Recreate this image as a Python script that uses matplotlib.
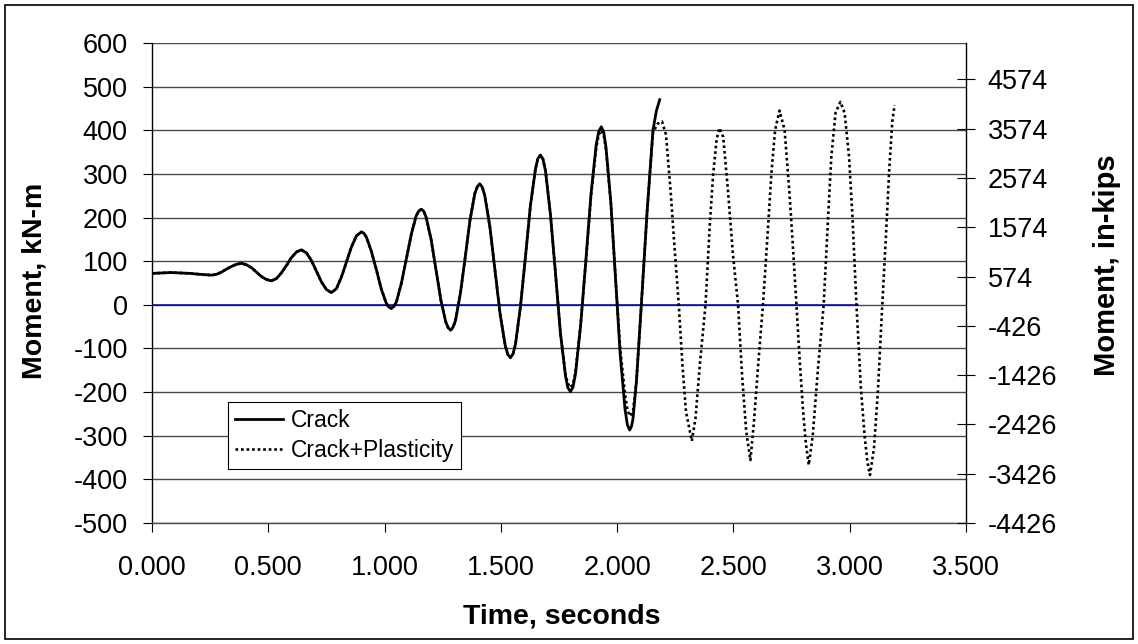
import matplotlib
matplotlib.use('Agg')
import matplotlib.pyplot as plt
from matplotlib.patches import Rectangle

# Crack (solid)
TimeCrack = [0.000, 0.041, 0.081, 0.122, 0.163, 0.203, 0.256,
             0.278, 0.299, 0.321, 0.342, 0.364, 0.385,
             0.406, 0.428, 0.449, 0.470, 0.492, 0.513,
             0.535, 0.556, 0.578, 0.599, 0.621, 0.642,
             0.664, 0.685, 0.707, 0.728, 0.750, 0.771,
             0.793, 0.814, 0.836, 0.857, 0.879, 0.900,
             0.911, 0.922, 0.943, 0.965, 0.986, 1.007, 1.018, 1.029,
             1.040, 1.051, 1.072, 1.094, 1.115, 1.136, 1.147, 1.158,
             1.169, 1.179, 1.200, 1.221, 1.242, 1.263, 1.274, 1.284,
             1.294, 1.305, 1.326, 1.347, 1.367, 1.388, 1.399, 1.409,
             1.420, 1.431, 1.453, 1.475, 1.497, 1.519, 1.530, 1.541,
             1.552, 1.563, 1.584, 1.606, 1.627, 1.649, 1.659, 1.670,
             1.681, 1.692, 1.713, 1.735, 1.756, 1.778, 1.788, 1.799,
             1.810, 1.821, 1.843, 1.866, 1.888, 1.910, 1.921, 1.932,
             1.942, 1.952, 1.973, 1.993, 2.013, 2.034, 2.044, 2.054,
             2.062, 2.068, 2.083, 2.104, 2.129, 2.154, 2.169, 2.183]
MomentCrack = [72, 73, 74, 73, 72, 70, 68,
               70, 75, 82, 88, 93, 95,
               92, 85, 75, 65, 58, 55,
               60, 73, 90, 108, 121, 126,
               119, 102, 77, 53, 35, 28,
               37, 63, 98, 132, 158, 167,
               164, 155, 123, 80, 36, 4, -5, -8,
               -4, 7, 49, 106, 162, 204, 215, 219,
               214, 200, 150, 81, 11, -39, -53, -58,
               -52, -36, 26, 110, 193, 255, 271, 277,
               270, 250, 178, 78, -22, -94, -114, -121,
               -113, -90, -5, 111, 227, 312, 335, 343,
               334, 307, 208, 72, -64, -163, -190, -199,
               -189, -158, -47, 105, 256, 367, 398, 408,
               396, 361, 234, 61, -113, -240, -275, -287,
               -278, -262, -175, 0, 215, 400, 445, 470]

# Crack+Plasticity (dotted)
TimePlast = [0.000, 0.041, 0.081, 0.122, 0.163, 0.203, 0.256,
             0.278, 0.299, 0.321, 0.342, 0.364, 0.385,
             0.406, 0.428, 0.449, 0.470, 0.492, 0.513,
             0.535, 0.556, 0.578, 0.599, 0.621, 0.642,
             0.664, 0.685, 0.707, 0.728, 0.750, 0.771,
             0.793, 0.814, 0.836, 0.857, 0.879, 0.900,
             0.911, 0.922, 0.943, 0.965, 0.986, 1.007, 1.018, 1.029,
             1.040, 1.051, 1.072, 1.094, 1.115, 1.136, 1.147, 1.158,
             1.169, 1.179, 1.200, 1.221, 1.242, 1.263, 1.274, 1.284,
             1.294, 1.305, 1.326, 1.347, 1.367, 1.388, 1.399, 1.409,
             1.420, 1.431, 1.453, 1.475, 1.497, 1.519, 1.530, 1.541,
             1.552, 1.563, 1.584, 1.606, 1.627, 1.649, 1.659, 1.670,
             1.681, 1.692, 1.713, 1.735, 1.756,
             1.778, 1.788, 1.799, 1.810, 1.821, 1.843, 1.866, 1.888, 1.910, 1.921, 1.932,
             1.942, 1.952, 1.973, 1.993, 2.013, 2.034, 2.044, 2.054,
             2.068, 2.083, 2.104, 2.129, 2.154, 2.174, 2.193,
             2.210, 2.230, 2.247, 2.265, 2.281, 2.296, 2.321,
             2.337, 2.355, 2.380, 2.398, 2.413, 2.428, 2.440,
             2.456, 2.476, 2.498, 2.520, 2.537, 2.555, 2.573,
             2.588, 2.606, 2.627, 2.649, 2.663, 2.679, 2.698,
             2.720, 2.741, 2.755, 2.771, 2.785, 2.799, 2.812, 2.824,
             2.841, 2.863, 2.888, 2.907, 2.921, 2.939, 2.960,
             2.978, 2.997, 3.012, 3.029, 3.048, 3.064, 3.076, 3.087,
             3.104, 3.121, 3.140, 3.155, 3.170, 3.183, 3.193]
MomentPlast = [72, 73, 74, 73, 72, 70, 68,
               70, 75, 82, 88, 93, 95,
               92, 85, 75, 65, 58, 55,
               60, 73, 90, 108, 121, 126,
               119, 102, 77, 53, 35, 28,
               37, 63, 98, 132, 158, 167,
               164, 155, 123, 80, 36, 4, -5, -8,
               -4, 7, 49, 106, 162, 204, 215, 219,
               214, 200, 150, 81, 11, -39, -53, -58,
               -52, -36, 26, 110, 193, 255, 271, 277,
               270, 250, 178, 78, -22, -94, -114, -121,
               -113, -90, -5, 111, 227, 312, 335, 343,
               334, 307, 208, 72, -64,
               -160, -180, -190, -182, -152, -45, 103, 252, 360, 390, 400,
               390, 356, 232, 62, -100, -205, -240, -255,
               -245, -175, 0, 215, 395, 415, 420,
               390, 260, 130, 0, -140, -245, -312,
               -260, -140, 0, 180, 300, 380, 405,
               385, 265, 115, 0, -160, -290, -356,
               -270, -140, 0, 179, 300, 400, 445,
               401, 256, 140, 0, -127, -240, -320, -367,
               -300, -150, 0, 200, 340, 440, 465,
               440, 340, 200, 0, -190, -300, -360, -390,
               -330, -200, 0, 150, 310, 420, 458]

TimeZero = [0.000, 3.035]
MomentZero = [0, 0]

LeftTicks = [-500, -400, -300, -200, -100, 0, 100, 200, 300, 400, 500, 600]
XTicks = [0.0, 0.5, 1.0, 1.5, 2.0, 2.5, 3.0, 3.5]
XTickLabels = ['0.000', '0.500', '1.000', '1.500', '2.000', '2.500', '3.000', '3.500']
RightTickLabels = ['-4426', '-3426', '-2426', '-1426', '-426', '574', '1574', '2574', '3574', '4574']
KnmToInKips = 8.8516

plt.rcParams["font.family"] = ["Liberation Sans", "DejaVu Sans"]

W, H = 1138, 644
fig = plt.figure(figsize=(W/100, H/100), dpi=100)
ax = fig.add_axes([152/W, 1-523/H, 814/W, 480/H])

ax.plot(TimeZero, MomentZero, color='#0000a0', linewidth=1.1, zorder=2)
lineCrack, = ax.plot(TimeCrack, MomentCrack, color='black', linewidth=2.0, zorder=3,
                     solid_joinstyle='round', label='Crack')
linePlast, = ax.plot(TimePlast, MomentPlast, color='black', linewidth=1.9, linestyle=(0, (1, 1.1)),
                     zorder=4, label='Crack+Plasticity')

ax.set_xlim(0, 3.5)
ax.set_ylim(-500, 600)
ax.set_xticks(XTicks)
ax.set_xticklabels(XTickLabels)
ax.set_yticks(LeftTicks)
ax.set_yticklabels([str(v) for v in LeftTicks])

ax.grid(True, axis='y', color='#4a4a4a', linewidth=1.0)
ax.set_axisbelow(True)

for s in ['top', 'right']:
    ax.spines[s].set_visible(False)
ax.spines['left'].set_color('black')
ax.spines['left'].set_linewidth(1.0)
ax.spines['bottom'].set_color('#4a4a4a')
ax.spines['bottom'].set_linewidth(1.0)

ax.tick_params(axis='y', direction='out', length=6.5, width=0.8, pad=11, labelsize=19.5)
ax.tick_params(axis='x', direction='out', length=6.5, width=0.8, pad=16.5, labelsize=19.5)

ax2 = ax.twinx()
ax2.set_ylim(-500*KnmToInKips, 600*KnmToInKips)
ax2.set_yticks([-500*KnmToInKips + 1000*k for k in range(len(RightTickLabels))])
ax2.set_yticklabels(RightTickLabels)
ax2.tick_params(axis='y', direction='inout', length=13, width=0.8, pad=9, labelsize=19.5)
for s in ['top', 'left', 'bottom']:
    ax2.spines[s].set_visible(False)
ax2.spines['right'].set_color('black')
ax2.spines['right'].set_linewidth(1.0)

fig.text(35/W, 1-281/H, 'Moment, kN-m', rotation=90, ha='center', va='center',
         fontsize=20.5, fontweight='bold')
fig.text(1107/W, 1-265/H, 'Moment, in-kips', rotation=90, ha='center', va='center',
         fontsize=21, fontweight='bold')
fig.text(562/W, 1-617/H, 'Time, seconds', ha='center', va='center',
         fontsize=20.5, fontweight='bold')

leg = ax2.legend(handles=[lineCrack, linePlast], loc='upper left',
                 bbox_to_anchor=(228/W, 1-402/H), bbox_transform=fig.transFigure,
                 borderaxespad=0, fancybox=False, framealpha=1, edgecolor='black',
                 fontsize=16.5, handlelength=2.1, handletextpad=0.35,
                 borderpad=0.3, labelspacing=0.3)
leg.get_frame().set_linewidth(0.8)

fig.patches.append(Rectangle((5/W, 5/H), 1-10/W, 1-10/H, transform=fig.transFigure,
                             fill=False, edgecolor='black', linewidth=1.2))

fig.savefig('out.png', dpi=100)
